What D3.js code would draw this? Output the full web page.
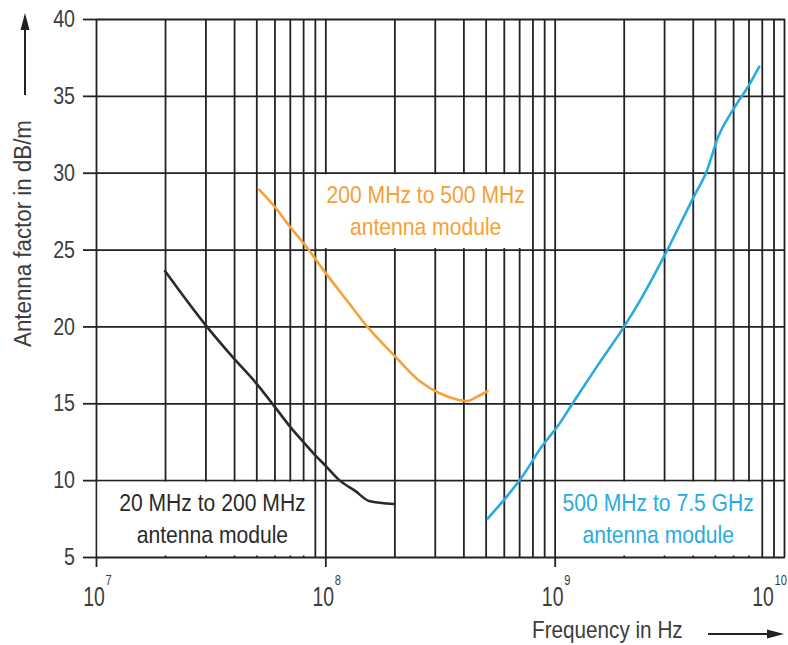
<!DOCTYPE html>
<html>
<head>
<meta charset="utf-8">
<script src="https://cdn.jsdelivr.net/npm/d3@7"></script>
<style>
  html, body { margin: 0; padding: 0; background: #fff; }
  svg { display: block; }
  text { font-family: "Liberation Sans", Arial, sans-serif; }
</style>
</head>
<body>
<svg id="chart" width="788" height="645"></svg>
<script>
// ---------------- data ----------------
const yTicks = [5, 10, 15, 20, 25, 30, 35, 40];
const xDecades = [1e7, 1e8, 1e9, 1e10];
const xDecadeExponents = ["7", "8", "9", "10"];

const lowFreq = [2.0e7, 3.0e7, 4.0e7, 5.0e7, 6.0e7, 7.0e7, 8.0e7, 9.0e7, 1.0e8, 1.15e8, 1.35e8, 1.55e8, 2.0e8];
const lowAF   = [23.6, 20.1, 17.9, 16.3, 14.8, 13.5, 12.5, 11.65, 10.95, 10.0, 9.3, 8.65, 8.45];

const midFreq = [5.15e7, 6.0e7, 7.0e7, 8.3e7, 1.0e8, 1.24e8, 1.52e8, 2.0e8, 2.6e8, 3.15e8, 3.75e8, 4.15e8, 4.55e8, 5.1e8];
const midAF   = [28.9, 27.8, 26.5, 25.15, 23.5, 21.7, 20.0, 18.1, 16.4, 15.65, 15.25, 15.15, 15.4, 15.8];

const highFreq = [5.1e8, 6.0e8, 7.2e8, 8.8e8, 1.03e9, 1.21e9, 1.53e9, 2.03e9, 2.36e9, 3.13e9, 4.03e9, 4.6e9, 5.17e9, 6.0e9, 7.1e9, 7.8e9];
const highAF   = [7.5, 8.7, 10.2, 12.2, 13.5, 15.1, 17.4, 20.1, 21.7, 25.1, 28.4, 30.1, 32.35, 34.1, 35.8, 36.9];

const seriesNames = ["20 MHz to 200 MHz", "200 MHz to 500 MHz", "500 MHz to 7.5 GHz"];
const moduleText = "antenna module";
const yTitle = "Antenna factor in dB/m";
const xTitle = "Frequency in Hz";

// ---------------- layout ----------------
const svg = d3.select("#chart");
const x = d3.scaleLog().domain([1e7, 1e10]).range([96, 784]);
const y = d3.scaleLinear().domain([5, 40]).range([557, 19]);
const gridColor = "#222";
const textColor = "#3d3d3d";
const colors = ["#2a2a2a", "#f6a035", "#29abe2"];

// condensed text helper (horizontal squeeze)
function ctext(px, py, str, size, sx, anchor, color, rot) {
  return svg.append("text")
    .attr("transform", `translate(${px},${py})${rot ? ` rotate(${rot})` : ""} scale(${sx},1)`)
    .attr("text-anchor", anchor).attr("fill", color)
    .style("font-size", size + "px").text(str);
}

const minorTicks = [];
[1e7, 1e8, 1e9].forEach(d => { for (let k = 1; k <= 9; k++) minorTicks.push(k * d); });
minorTicks.push(1e10);

const x0 = x.range()[0], x1 = x.range()[1];
const yTop = y(40), yBot = y(5);

// vertical grid
const gx = svg.append("g").attr("transform", `translate(0,${yBot})`)
  .call(d3.axisBottom(x).tickValues(minorTicks).tickSize(-(yBot - yTop)).tickSizeOuter(0).tickFormat(""));
gx.select(".domain").remove();
gx.selectAll(".tick line").attr("stroke", gridColor).attr("stroke-width", 1.8);

// major x ticks extending below
const gxm = svg.append("g").attr("transform", `translate(0,${yBot})`)
  .call(d3.axisBottom(x).tickValues(xDecades.slice(0, 3)).tickSize(10).tickSizeOuter(0).tickFormat(""));
gxm.select(".domain").remove();
gxm.selectAll(".tick line").attr("stroke", gridColor).attr("stroke-width", 1.8);

// horizontal grid
const gy = svg.append("g").attr("transform", `translate(${x0},0)`)
  .call(d3.axisLeft(y).tickValues(yTicks).tickSize(-(x1 - x0 + 1)).tickSizeOuter(0).tickFormat(""));
gy.select(".domain").remove();
gy.selectAll(".tick line").attr("stroke", gridColor).attr("stroke-width", 1.8);

// y ticks + labels
const gyl = svg.append("g").attr("transform", `translate(${x0},0)`)
  .call(d3.axisLeft(y).tickValues(yTicks).tickSize(13).tickPadding(12.6).tickSizeOuter(0).tickFormat(d3.format("d")));
gyl.select(".domain").remove();
gyl.selectAll(".tick line").attr("stroke", gridColor).attr("stroke-width", 1.8);
gyl.selectAll(".tick text").attr("fill", textColor).attr("transform", "scale(0.82,1)")
  .style("font-size", "24px").style("font-family", '"Liberation Sans", Arial, sans-serif');
gyl.attr("font-size", null).attr("font-family", null);

// x decade labels
xDecades.forEach((d, i) => {
  const last = i === xDecades.length - 1;
  const cx = x(d) + (last ? -21 : -2);
  ctext(cx, 606, "10", 27, 0.72, "middle", textColor);
  ctext(cx + 11.5, 585, xDecadeExponents[i], 14, 0.8, "start", textColor);
});

// label boxes (white, covering the grid)
const boxes = [
  { f0: 1e7, f1: 9e7, v0: 5, v1: 10, dx: 7 },
  { f0: 9e7, f1: 8e8, v0: 25, v1: 30, dx: 2 },
  { f0: 1e9, f1: 8e9, v0: 5, v1: 10, dx: 0 }
];
boxes.forEach((b, i) => {
  const bx0 = x(b.f0) + 1.5, bx1 = x(b.f1) - 1.5;
  const by0 = y(b.v1) + 1.5, by1 = y(b.v0) - 1.5;
  svg.append("rect").attr("x", bx0).attr("y", by0).attr("width", bx1 - bx0).attr("height", by1 - by0)
    .attr("fill", "#fff");
  const cx = (bx0 + bx1) / 2 + b.dx;
  ctext(cx, by0 + 29, seriesNames[i], 24, 0.88, "middle", colors[i]);
  ctext(cx, by0 + 61, moduleText, 24, 0.88, "middle", colors[i]);
});

// curves
const line = d3.line().x(d => x(d[0])).y(d => y(d[1])).curve(d3.curveMonotoneX);
const series = [
  d3.zip(lowFreq, lowAF),
  d3.zip(midFreq, midAF),
  d3.zip(highFreq, highAF)
];
series.forEach((s, i) => {
  svg.append("path").datum(s).attr("d", line).attr("fill", "none")
    .attr("stroke", colors[i]).attr("stroke-width", 2.6).attr("stroke-linejoin", "round").attr("stroke-linecap", "round");
});

// y title + arrow
ctext(31, (120 + 347) / 2, yTitle, 24, 0.93, "middle", textColor, -90);
svg.append("line").attr("x1", 25).attr("x2", 25).attr("y1", 95).attr("y2", 26)
  .attr("stroke", "#222").attr("stroke-width", 2);
svg.append("path").attr("d", "M25,13 L20.5,30 L29.5,30 Z").attr("fill", "#222");

// x title + arrow
ctext(532, 638, xTitle, 23, 0.9, "start", textColor);
svg.append("line").attr("x1", 708).attr("x2", 770).attr("y1", 634).attr("y2", 634)
  .attr("stroke", "#222").attr("stroke-width", 2);
svg.append("path").attr("d", "M784,634 L767,629.5 L767,638.5 Z").attr("fill", "#222");
</script>
</body>
</html>
